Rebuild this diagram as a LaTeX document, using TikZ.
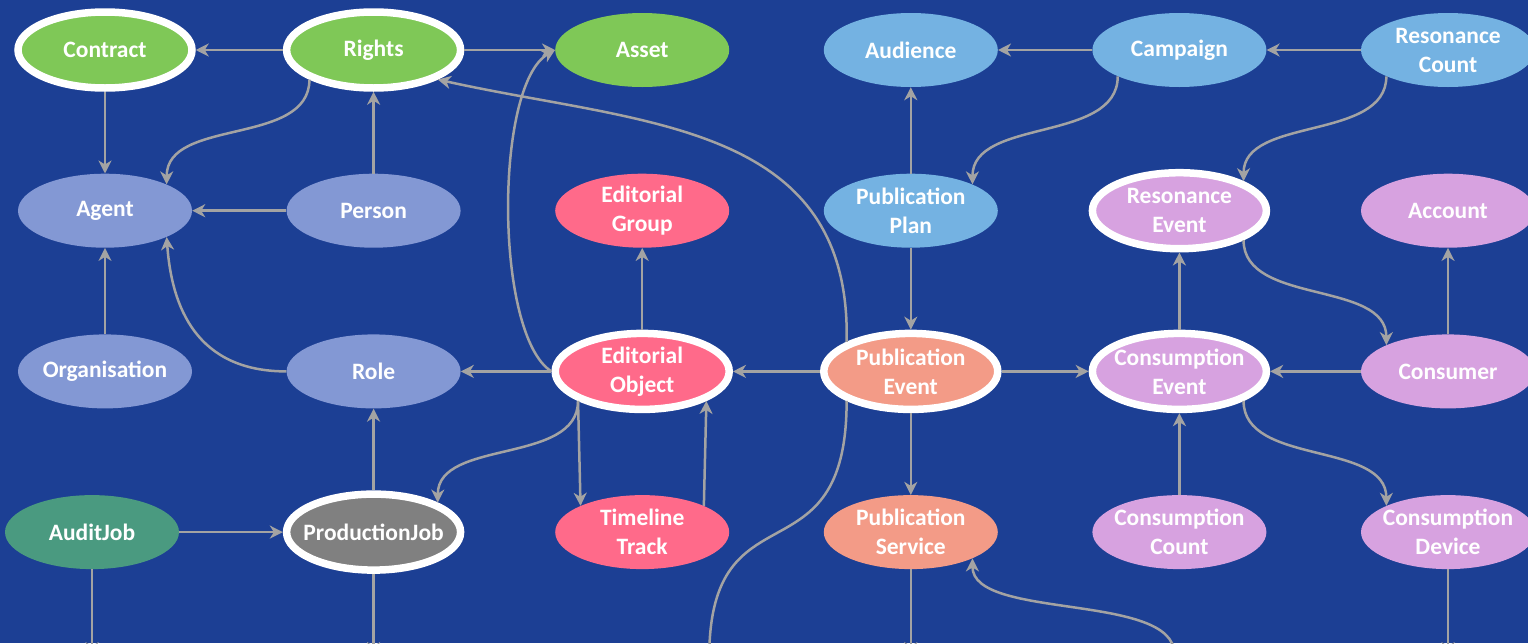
\documentclass[tikz,border=0pt]{standalone}
\usepackage{fontspec}
\setmainfont{Carlito}
\usepackage{tikz}
\usetikzlibrary{shapes.geometric, arrows.meta}

\definecolor{bgblue}{RGB}{28,63,148}
\definecolor{edgegray}{RGB}{163,163,163}
\definecolor{cgreen}{RGB}{127,200,87}
\definecolor{cperi}{RGB}{131,152,212}
\definecolor{cblue}{RGB}{116,178,226}
\definecolor{cpink}{RGB}{255,106,138}
\definecolor{csalmon}{RGB}{243,155,135}
\definecolor{clilac}{RGB}{215,162,224}
\definecolor{cteal}{RGB}{74,154,128}
\definecolor{cgray}{RGB}{128,128,128}

\tikzstyle{entity} = [ellipse, minimum width=174pt, minimum height=74pt, inner xsep=-22pt, inner ysep=-12pt, align=center, text=white, font=\bfseries\fontsize{23.5}{29}\selectfont]
\tikzstyle{key} = [entity, draw=white, line width=7.5pt, minimum height=76pt]
\tikzstyle{arrow} = [line width=2.5pt, draw=edgegray, -{Stealth[length=13pt,width=13pt,inset=4pt]}]

\begin{document}
\begin{tikzpicture}[node distance=160.7pt]
\useasboundingbox (0,0) rectangle (1528pt,-643pt);
\clip (0,0) rectangle (1528pt,-643pt);
\fill [bgblue] (0,0) rectangle (1528pt,-643pt);

\node (1a) [key, fill=cgreen] at (105pt,-50pt) {Contract};
\node (1b) [key, fill=cgreen, right of=1a, xshift=107.9pt] {Rights};
\node (1c) [entity, fill=cgreen, right of=1b, xshift=107.9pt] {Asset};
\node (1d) [entity, fill=cblue, right of=1c, xshift=107.9pt] {Audience};
\node (1e) [entity, fill=cblue, right of=1d, xshift=107.9pt] {Campaign};
\node (1f) [entity, fill=cblue, right of=1e, xshift=107.9pt] {Resonance\\Count};

\node (2a) [entity, fill=cperi, below of=1a] {Agent};
\node (2b) [entity, fill=cperi, below of=1b] {Person};
\node (2c) [entity, fill=cpink, below of=1c] {Editorial\\Group};
\node (2d) [entity, fill=cblue, below of=1d] {Publication\\Plan};
\node (2e) [key, fill=clilac, below of=1e] {Resonance\\Event};
\node (2f) [entity, fill=clilac, below of=1f] {Account};

\node (3a) [entity, fill=cperi, below of=2a] {Organisation};
\node (3b) [entity, fill=cperi, below of=2b] {Role};
\node (3c) [key, fill=cpink, below of=2c] {Editorial\\Object};
\node (3d) [key, fill=csalmon, below of=2d] {Publication\\Event};
\node (3e) [key, fill=clilac, below of=2e] {Consumption\\Event};
\node (3f) [entity, fill=clilac, below of=2f] {Consumer};

\node (4a) [entity, fill=cteal, below of=3a, xshift=-13pt] {AuditJob};
\node (4b) [key, fill=cgray, below of=3b] {ProductionJob};
\node (4c) [entity, fill=cpink, below of=3c] {Timeline\\Track};
\node (4d) [entity, fill=csalmon, below of=3d] {Publication\\Service};
\node (4e) [entity, fill=clilac, below of=3e] {Consumption\\Count};
\node (4f) [entity, fill=clilac, below of=3f] {Consumption\\Device};

% ends below the frame
\path (4a.center) ++(0,-123pt) coordinate (5a);
\path (4b.center) ++(0,-123pt) coordinate (5b);
\path (4c.center) ++(67pt,-134pt) coordinate (5c);
\path (4d.center) ++(0,-123pt) coordinate (5d);
\path (4e.center) ++(-5pt,-122pt) coordinate (5e);
\path (4f.center) ++(0,-123pt) coordinate (5f);

\draw [arrow] (1b) -- (1a);
\draw [arrow] (1b) -- (1c);
\draw [arrow] (1a) -- (2a);
\draw [arrow] (1b.south west) .. controls +(0,-67pt) and +(0,67pt) .. (2a.north east);
\draw [arrow] (2b) -- (1b);
\draw [arrow] (2b) -- (2a);
\draw [arrow] (3a) -- (2a);
\draw [arrow] (3b.west) .. controls +(-90pt,0) and +(5pt,-70pt) .. (2a.south east);

\draw [arrow] (3c) -- (3b);
\draw [arrow] (3c) -- (2c);
\draw [arrow] (3c.west) .. controls +(-57pt,36pt) and +(-61pt,-35pt) .. (1c.west);
\draw [arrow] (3c.south west) .. controls +(0,-64pt) and +(0,64pt) .. (4b.north east);
\draw [arrow] (3c.south west) -- (4c.north west);
\draw [arrow] (4c.north east) -- (3c.south east);

\draw [arrow] (3d) -- (3c);
\draw [arrow] (3d.north west) .. controls +(5pt,221pt) and +(202pt,-45pt) .. (1b.south east);
\draw [arrow] (3d) -- (3e);
\draw [arrow] (3d) -- (4d);
\draw [arrow] (3d.south west) .. controls +(0,-185pt) and +(0,185pt) .. (5c);
\draw [arrow] (2d) -- (3d);
\draw [arrow] (2d) -- (1d);
\draw [arrow] (1e) -- (1d);
\draw [arrow] (1e.south west) .. controls +(0,-67pt) and +(0,67pt) .. (2d.north east);

\draw [arrow] (1f) -- (1e);
\draw [arrow] (1f.south west) .. controls +(0,-65pt) and +(0,65pt) .. (2e.north east);
\draw [arrow] (2e.south east) .. controls +(0,-65pt) and +(0,65pt) .. (3f.north west);
\draw [arrow] (3e) -- (2e);
\draw [arrow] (3f) -- (3e);
\draw [arrow] (3f) -- (2f);
\draw [arrow] (4e) -- (3e);
\draw [arrow] (3e.south east) .. controls +(0,-65pt) and +(0,65pt) .. (4f.north west);
\draw [arrow] (5e) .. controls +(0,62pt) and +(0,-62pt) .. (4d.south east);

\draw [arrow] (4a) -- (4b);
\draw [arrow] (4b) -- (3b);
\draw [arrow] (4a) -- (5a);
\draw [arrow] (4b) -- (5b);
\draw [arrow] (4d) -- (5d);
\draw [arrow] (4f) -- (5f);

\end{tikzpicture}
\end{document}
